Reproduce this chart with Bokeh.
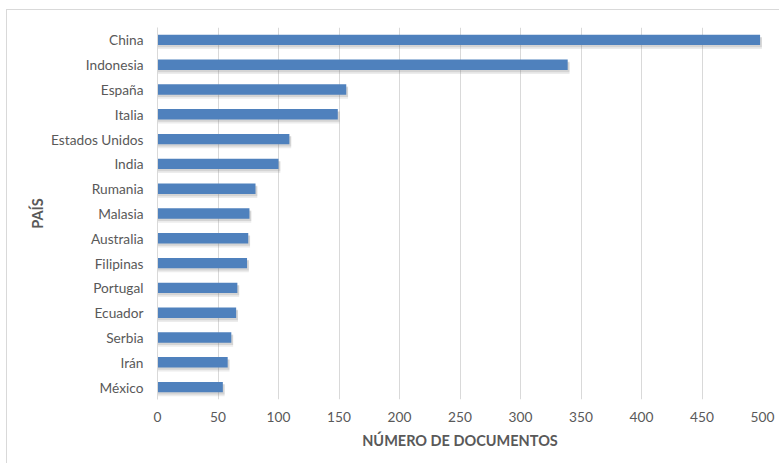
from bokeh.plotting import figure
from bokeh.models import ColumnDataSource, FixedTicker
from bokeh.transform import dodge
from bokeh.embed import file_html
from bokeh.resources import INLINE

countries = ["China", "Indonesia", "España", "Italia", "Estados Unidos", "India",
             "Rumania", "Malasia", "Australia", "Filipinas", "Portugal", "Ecuador",
             "Serbia", "Irán", "México"]
documents = [498, 339, 156, 149, 109, 100, 81, 76, 75, 74, 66, 65, 61, 58, 54]
x_ticks = [0, 50, 100, 150, 200, 250, 300, 350, 400, 450, 500]

FONT = "Lato"
TEXT = "#595959"

factors = list(reversed(countries))
src = ColumnDataSource(dict(country=countries, docs=documents,
                            shadow=[d + 1.5 for d in documents]))

p = figure(width=773, height=454, y_range=factors, x_range=(0, 500),
           output_backend="svg", toolbar_location=None,
           min_border_left=150, min_border_right=18,
           min_border_top=17, min_border_bottom=65)
p.styles = {"margin-left": "6px", "margin-top": "9px",
            "border-left": "1px solid #d9d9d9", "border-top": "1px solid #d9d9d9"}

# soft shadow under bars
p.hbar(y=dodge("country", -0.14, range=p.y_range), right="shadow", left=0,
       height=0.46, source=src, fill_color="#7f7f7f", fill_alpha=0.15, line_color=None)
p.hbar(y=dodge("country", -0.09, range=p.y_range), right="shadow", left=0,
       height=0.42, source=src, fill_color="#7f7f7f", fill_alpha=0.22, line_color=None)
p.hbar(y="country", right="docs", left=0, height=0.42, source=src,
       fill_color="#4F81BD", line_color=None)

p.outline_line_color = None
p.background_fill_color = "white"
p.border_fill_color = "white"

p.xgrid.grid_line_color = "#d9d9d9"
p.xgrid.ticker = FixedTicker(ticks=x_ticks)
p.ygrid.grid_line_color = None

p.xaxis.ticker = FixedTicker(ticks=x_ticks)
p.xaxis.axis_line_color = None
p.xaxis.major_tick_line_color = None
p.xaxis.minor_tick_line_color = None
p.xaxis.major_label_standoff = 6
p.xaxis.axis_label = "NÚMERO DE DOCUMENTOS"
p.xaxis.axis_label_standoff = 7

p.yaxis.axis_line_color = "#d9d9d9"
p.yaxis.major_tick_line_color = None
p.yaxis.minor_tick_line_color = None
p.yaxis.major_label_standoff = 8
p.yaxis.axis_label = "PAÍS"
p.yaxis.axis_label_standoff = 2

for ax in (p.xaxis, p.yaxis):
    ax.major_label_text_font = FONT
    ax.major_label_text_font_size = "13.7px"
    ax.major_label_text_color = TEXT
    ax.axis_label_text_font = FONT
    ax.axis_label_text_font_size = "14.5px"
    ax.axis_label_text_font_style = "bold"
    ax.axis_label_text_color = TEXT

open("out.html", "w").write(file_html(p, INLINE))
